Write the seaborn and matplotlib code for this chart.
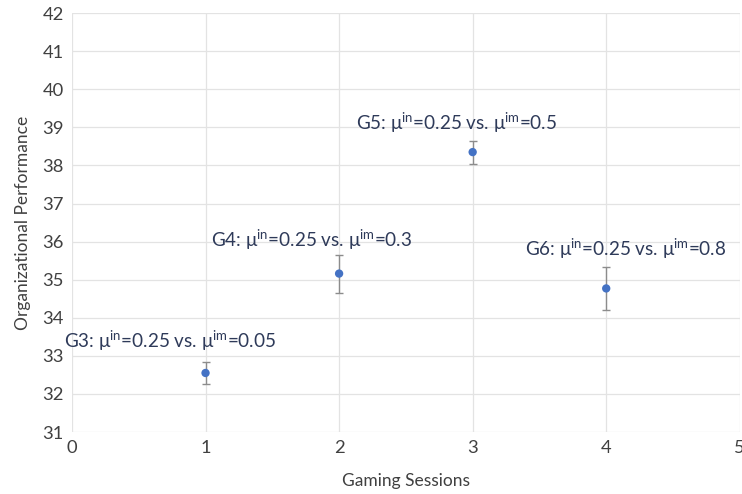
import matplotlib
matplotlib.use("Agg")
import matplotlib.pyplot as plt
import seaborn as sns
import pandas as pd

# Mean organizational performance per gaming session with error bars
sessions = [1, 2, 3, 4]
performance = [32.55, 35.16, 38.35, 34.77]
errors = [0.30, 0.50, 0.30, 0.57]
labels = [
    "G3: μ$^{in}$=0.25 vs. μ$^{im}$=0.05",
    "G4: μ$^{in}$=0.25 vs. μ$^{im}$=0.3",
    "G5: μ$^{in}$=0.25 vs. μ$^{im}$=0.5",
    "G6: μ$^{in}$=0.25 vs. μ$^{im}$=0.8",
]
label_pos = [(-0.06, 33.4), (1.04, 36.05), (2.13, 39.12), (3.39, 35.82)]

sns.set_theme(style="whitegrid")
plt.rcParams["font.family"] = ["Lato", "DejaVu Sans"]
plt.rcParams["mathtext.default"] = "regular"

df = pd.DataFrame({"session": sessions, "perf": performance, "err": errors})

fig = plt.figure(figsize=(7.42, 4.94), dpi=100)
ax = fig.add_axes([0.097, 0.1255, 0.9, 0.848])

ax.errorbar(df["session"], df["perf"], yerr=df["err"], fmt="none",
            ecolor="#8C8C8C", elinewidth=1.0, capsize=3, capthick=1.0, zorder=2)
sns.scatterplot(data=df, x="session", y="perf", ax=ax, color="#4472C4",
                s=36, edgecolor="none", zorder=3)

for txt, (x, y) in zip(labels, label_pos):
    ax.text(x, y, txt, fontsize=13.6, color="#2E3A59", ha="left", va="center")

ax.set_xlim(0, 5)
ax.set_ylim(31, 42)
ax.set_xticks(range(0, 6))
ax.set_yticks(range(31, 43))
ax.grid(True, color="#E3E3E3", linewidth=0.9)
for s in ax.spines.values():
    s.set_visible(False)
ax.tick_params(axis="both", labelsize=13.2, colors="#404040", length=0, pad=6)
ax.set_xlabel("Gaming Sessions", fontsize=12.5, color="#404040", labelpad=12)
ax.set_ylabel("Organizational Performance", fontsize=12.5, color="#404040", labelpad=8)

fig.savefig("out.png", dpi=100)
